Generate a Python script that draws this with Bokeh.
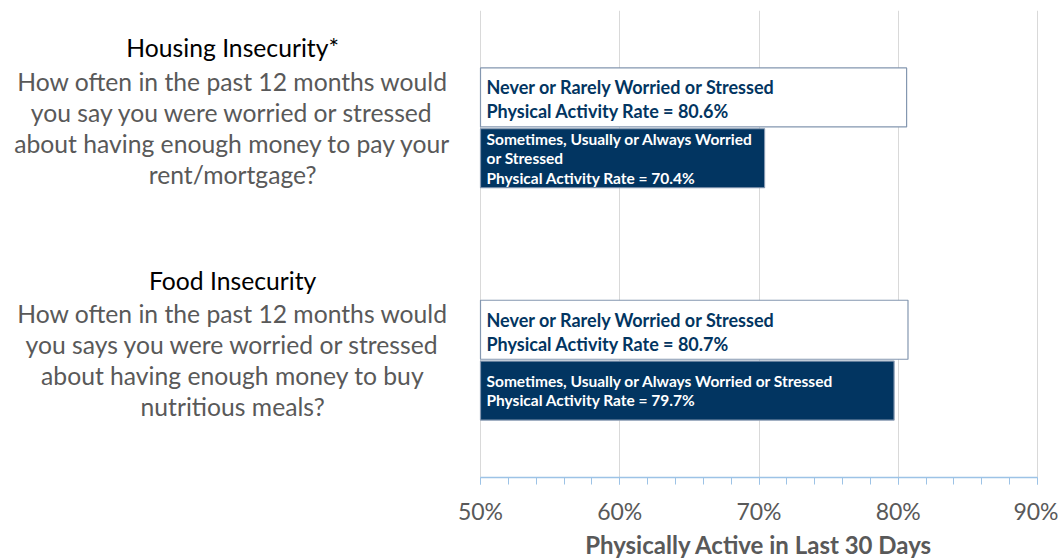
from bokeh.plotting import figure
from bokeh.models import (ColumnDataSource, FactorRange, Range1d, FixedTicker,
                          PrintfTickFormatter, Title)
from bokeh.core.properties import value
from bokeh.embed import file_html
from bokeh.resources import INLINE

# ---- data ----
groups = ["Housing", "Food"]
group_titles = ["Housing Insecurity*", "Food Insecurity"]
group_questions = [
    "How often in the past 12 months would\nyou say you were worried or stressed\nabout having enough money to pay your\nrent/mortgage?",
    "How often in the past 12 months would\nyou says you were worried or stressed\nabout having enough money to buy\nnutritious meals?",
]
statuses = ["Never", "Sometimes"]
housing_rates = [80.6, 70.4]
food_rates = [80.7, 79.7]
housing_labels = ["Never or Rarely Worried or Stressed",
                  "Sometimes, Usually or Always Worried\nor Stressed"]
food_labels = ["Never or Rarely Worried or Stressed",
               "Sometimes, Usually or Always Worried or Stressed"]
x_ticks = [50, 60, 70, 80, 90]
axis_title = "Physically Active in Last 30 Days"

FONT = "Lato"
NAVY = "#023561"
GRAY = "#595959"

# ---- build bar table ----
ys, vals, labels, fills, tcolors = [], [], [], [], []
for g, rates, labs in [("Food", food_rates, food_labels), ("Housing", housing_rates, housing_labels)]:
    for s, r, l in reversed(list(zip(statuses, rates, labs))):
        ys.append((g, s))
        vals.append(r)
        labels.append(l + "\nPhysical Activity Rate = %.1f%%" % r)
        fills.append("white" if s == "Never" else NAVY)
        tcolors.append(NAVY if s == "Never" else "white")

src = ColumnDataSource(dict(y=ys, v=vals, base=[x_ticks[0]] * len(vals), label=labels,
                            fill=fills, tc=tcolors))

px_per_unit = 13.925
x_start = x_ticks[0] - 480 / px_per_unit
x_end = x_start + 1058 / px_per_unit

p = figure(width=1058, height=559, output_backend="svg", toolbar_location=None,
           x_range=Range1d(x_start, x_end),
           y_range=FactorRange(factors=ys, factor_padding=0, group_padding=1.82,
                               range_padding=0.93, range_padding_units="absolute"),
           min_border_left=0, min_border_right=0, min_border_top=10, min_border_bottom=82)
p.outline_line_color = None
p.background_fill_color = "white"
p.yaxis.visible = False
p.ygrid.grid_line_color = None

p.xgrid.bounds = (x_ticks[0], x_ticks[-1])
p.xgrid.grid_line_color = "#D9D9D9"
p.xgrid.ticker = FixedTicker(ticks=x_ticks)

ax = p.xaxis[0]
ax.bounds = (x_ticks[0], x_ticks[-1])
ax.ticker = FixedTicker(ticks=x_ticks, minor_ticks=[x for x in range(50, 91, 2)])
ax.formatter = PrintfTickFormatter(format="%d%%")
ax.axis_line_color = "#9DC3E6"
ax.axis_line_width = 1.5
ax.major_tick_line_color = "#9DC3E6"
ax.minor_tick_line_color = "#9DC3E6"
ax.major_tick_in = 0
ax.major_tick_out = 7
ax.minor_tick_in = 0
ax.minor_tick_out = 7
ax.major_label_text_font = FONT
ax.major_label_text_font_size = "23px"
ax.major_label_text_color = GRAY
ax.major_label_standoff = 12

# axis title, right-aligned so that it sits centred under the 50%-90% span
p.add_layout(Title(text=axis_title, align="right", offset=126, standoff=0,
                   text_font=FONT, text_font_size="24px", text_font_style="bold",
                   text_color=GRAY), "below")

p.hbar(y="y", left="base", right="v", height=0.97, fill_color="fill",
       line_color="#8497B0", line_width=1.2, source=src)

# bar texts
never_idx = [i for i, y in enumerate(ys) if y[1] == "Never"]
some_idx = [i for i, y in enumerate(ys) if y[1] != "Never"]
for idx, size, lh, yo in [(never_idx, "18px", 1.09, 2), (some_idx, "15.5px", 1.08, 0)]:
    sub = ColumnDataSource(dict(y=[ys[i] for i in idx], x=[x_ticks[0]] * len(idx),
                                label=[labels[i] for i in idx], tc=[tcolors[i] for i in idx]))
    p.text(x="x", y="y", text="label", source=sub, x_offset=6, y_offset=yo,
           text_font=value(FONT), text_font_style="bold", text_font_size=size,
           text_color="tc", text_baseline="middle", text_align="left",
           text_line_height=lh)

# left-hand question texts
qsrc = ColumnDataSource(dict(y=groups, x=[32.2] * len(groups), q=group_questions, t=group_titles))
p.text(x="x", y="y", text="q", source=qsrc, text_font=value(FONT), text_font_size="24.7px",
       text_color=GRAY, text_align="center", text_baseline="middle", text_line_height=1.066)
p.text(x="x", y="y", text="t", source=qsrc, y_offset=-80, text_font=value(FONT),
       text_font_size="24.7px", text_color="black", text_align="center", text_baseline="middle")

open("out.html", "w").write(file_html(p, INLINE))
